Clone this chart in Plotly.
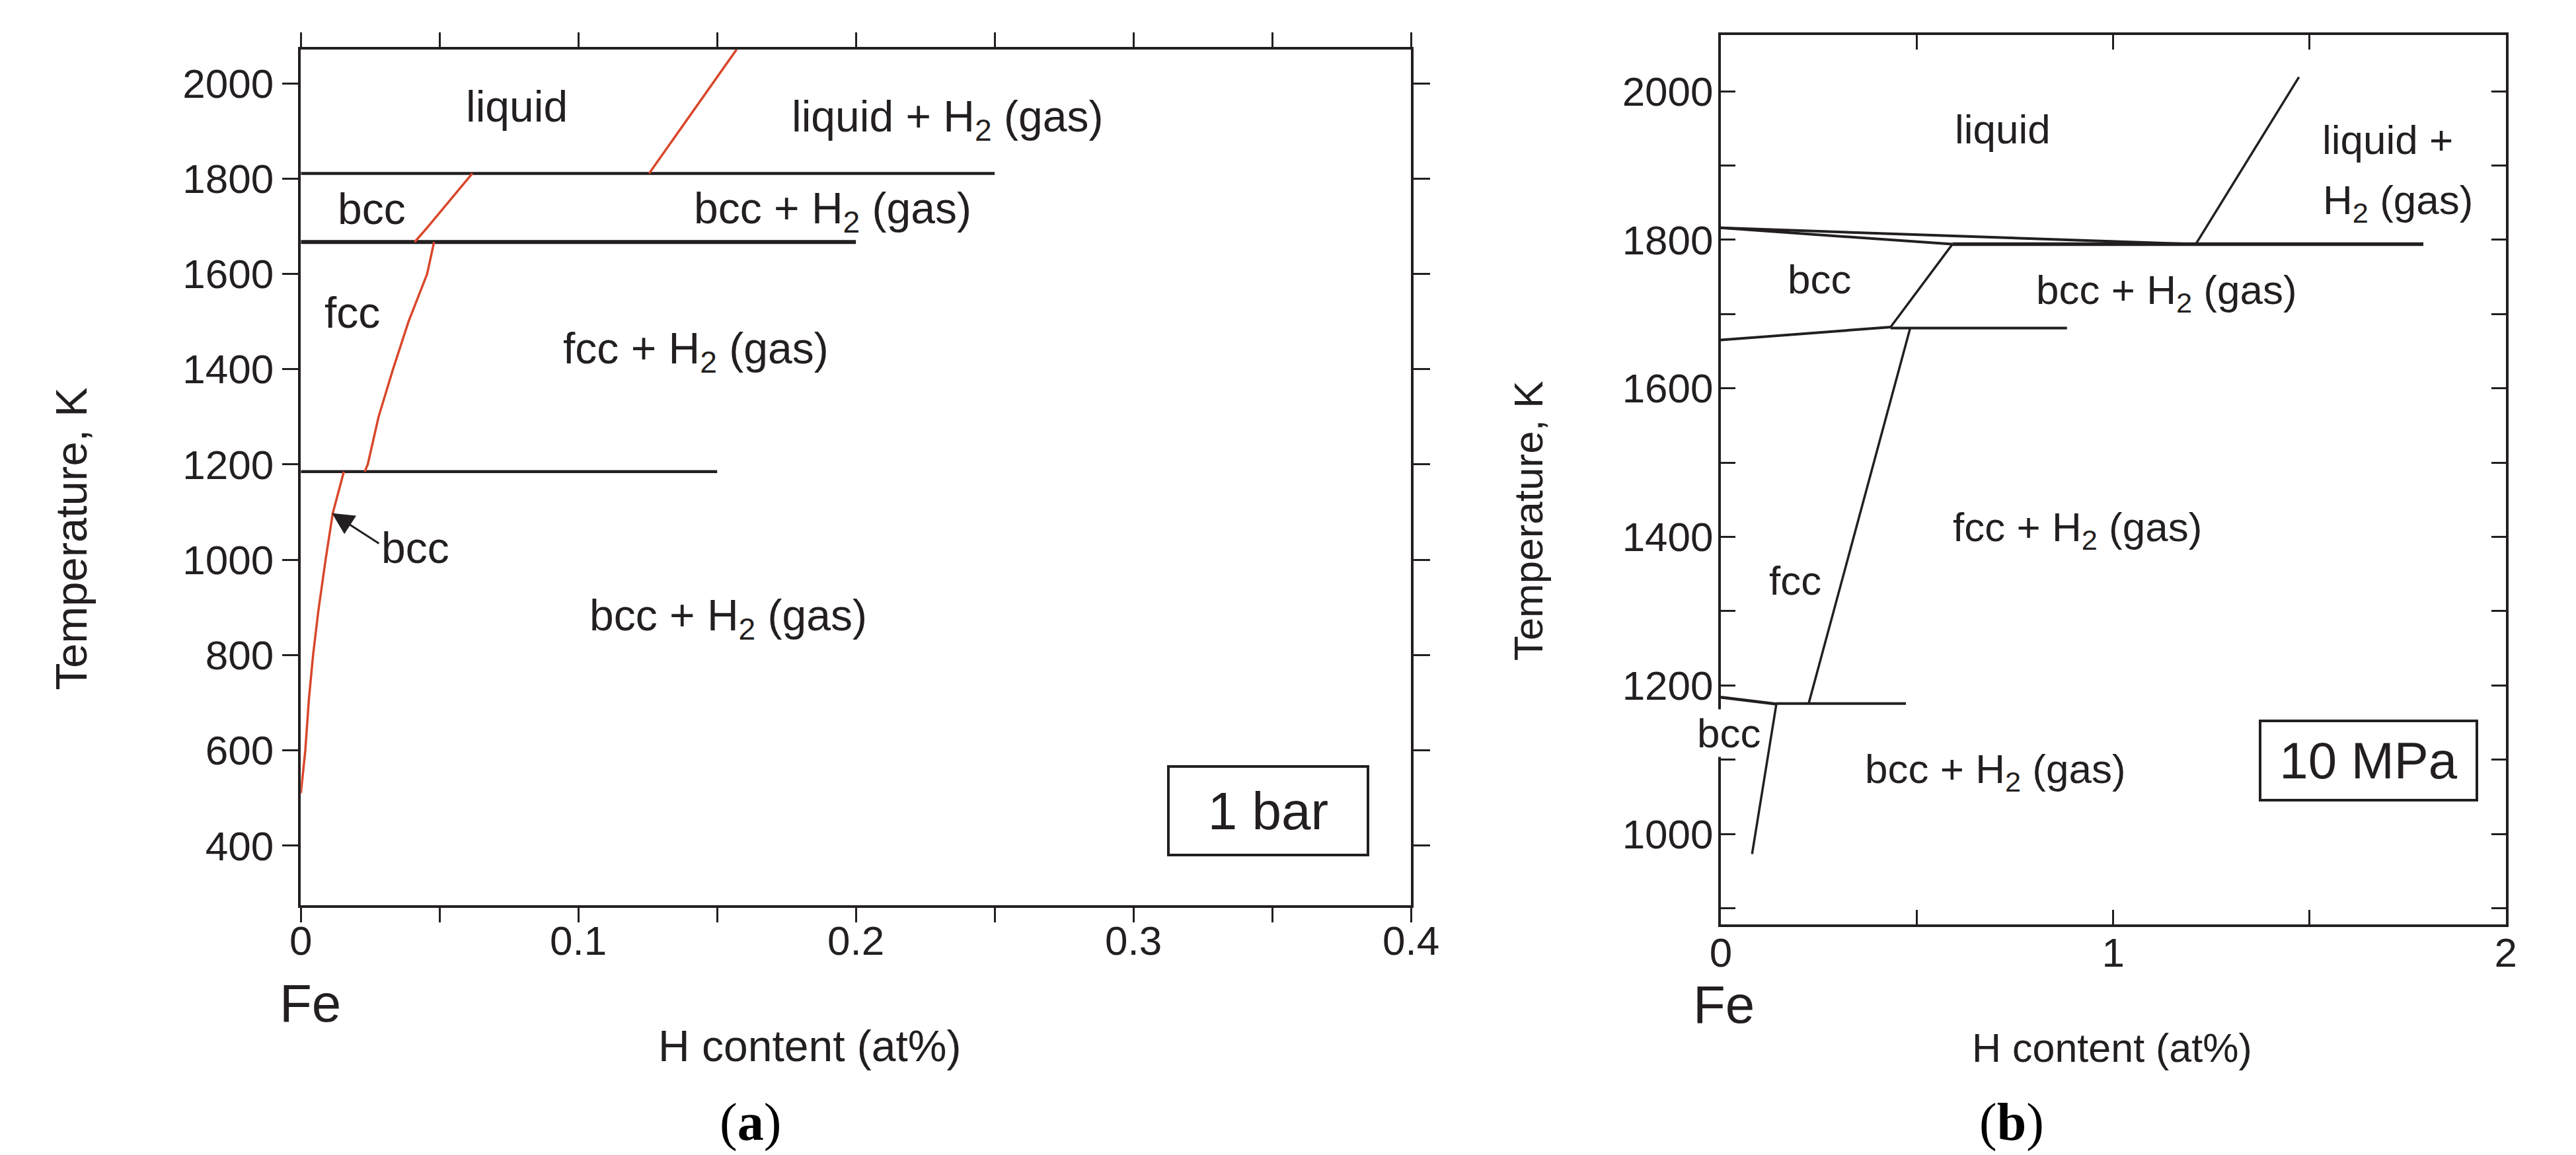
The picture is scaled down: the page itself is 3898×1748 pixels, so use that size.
import plotly.graph_objects as go

# ---------------- data: panel (a) 1 bar ----------------
a_liq_iso_x = [0, 0.25]
a_liq_iso_T = [1811, 1811]
a_delta_iso_x = [0, 0.2]
a_delta_iso_T = [1667, 1667]
a_alpha_iso_x = [0, 0.15]
a_alpha_iso_T = [1185, 1185]

a_liqgas_x = [0.1255, 0.157]
a_liqgas_T = [1811, 2071]
a_delta_x = [0.041, 0.0455, 0.0618]
a_delta_T = [1667, 1697, 1811]
a_gamma_x = [0.023, 0.0241, 0.0280, 0.0332, 0.0388, 0.0455, 0.048]
a_gamma_T = [1185, 1200, 1300, 1400, 1500, 1600, 1667]
a_alpha_x = [0.0, 0.0016, 0.0029, 0.0044, 0.0063, 0.0089, 0.0115, 0.0155]
a_alpha_T = [510, 600, 708, 800, 893, 1000, 1098, 1185]

# ---------------- data: panel (b) 10 MPa ----------------
b_liq_x = [0, 1.21]
b_liq_T = [1816, 1794]
b_delta_sol_x = [0, 0.3, 0.59]
b_delta_sol_T = [1816, 1805, 1794]
b_iso1_x = [0.59, 1.79]
b_iso1_T = [1794, 1794]
b_liqgas_x = [1.21, 1.473]
b_liqgas_T = [1794, 2019]
b_deltagas_x = [0.59, 0.4325]
b_deltagas_T = [1794, 1682.5]
b_deltagamma_x = [0, 0.224, 0.4325]
b_deltagamma_T = [1665, 1674, 1682.5]
b_iso2_x = [0.4325, 0.882]
b_iso2_T = [1681, 1681]
b_gammagas_x = [0.4824, 0.224]
b_gammagas_T = [1681, 1176]
b_alphagamma_x = [0, 0.1415]
b_alphagamma_T = [1184, 1175]
b_iso3_x = [0.1415, 0.4715]
b_iso3_T = [1175.5, 1175.5]
b_alphagas_x = [0.1415, 0.0796]
b_alphagas_T = [1175, 973]

# tick labels
a_xticks = [0, 0.05, 0.1, 0.15, 0.2, 0.25, 0.3, 0.35, 0.4]
a_xticktext = ["0", "", "0.1", "", "0.2", "", "0.3", "", "0.4"]
a_yticks = [400, 600, 800, 1000, 1200, 1400, 1600, 1800, 2000]
b_xticks = [0, 0.5, 1, 1.5, 2]
b_xticktext = ["0", "", "1", "", "2"]
b_yticks = [900, 1000, 1100, 1200, 1300, 1400, 1500, 1600, 1700, 1800, 1900, 2000]
b_yticktext = ["", "1000", "", "1200", "", "1400", "", "1600", "", "1800", "", "2000"]

INK = "#231f20"
RED = "#d9472b"
FONT = "Liberation Sans, Arial, sans-serif"

fig = go.Figure()

def line(x, y, color, width, xa="x", ya="y"):
    fig.add_trace(go.Scatter(x=x, y=y, mode="lines", xaxis=xa, yaxis=ya,
                             line=dict(color=color, width=width),
                             showlegend=False, hoverinfo="skip"))

# panel a
line(a_liq_iso_x, a_liq_iso_T, INK, 4.5)
line(a_delta_iso_x, a_delta_iso_T, INK, 6)
line(a_alpha_iso_x, a_alpha_iso_T, INK, 4.5)
line(a_liqgas_x, a_liqgas_T, RED, 3.5)
line(a_delta_x, a_delta_T, RED, 3.5)
line(a_gamma_x, a_gamma_T, RED, 3.5)
line(a_alpha_x, a_alpha_T, RED, 3.5)

# panel b
for xs, ts, w in [
    (b_liq_x, b_liq_T, 4), (b_delta_sol_x, b_delta_sol_T, 4),
    (b_iso1_x, b_iso1_T, 5.5), (b_liqgas_x, b_liqgas_T, 3.5),
    (b_deltagas_x, b_deltagas_T, 3.5), (b_deltagamma_x, b_deltagamma_T, 4),
    (b_iso2_x, b_iso2_T, 4), (b_gammagas_x, b_gammagas_T, 3.5),
    (b_alphagamma_x, b_alphagamma_T, 4.5), (b_iso3_x, b_iso3_T, 4),
    (b_alphagas_x, b_alphagas_T, 3.5),
]:
    line(xs, ts, INK, w, "x2", "y2")

ann = []
def lab(text, x, y, size, xref="x", yref="y", xanchor="center", **kw):
    d = dict(text=text, x=x, y=y, xref=xref, yref=yref, showarrow=False,
             xanchor=xanchor, yanchor="middle",
             font=dict(family=FONT, size=size, color=INK))
    d.update(kw)
    ann.append(d)

H2 = "H<sub>2</sub>"
# panel a region labels
lab("liquid", 0.0778, 1952, 66)
lab(f"liquid + {H2} (gas)", 0.2329, 1924, 66)
lab("bcc", 0.0256, 1736, 66)
lab(f"bcc + {H2} (gas)", 0.1916, 1731, 66)
lab("fcc", 0.0185, 1519, 66)
lab(f"fcc + {H2} (gas)", 0.1423, 1437, 66)
lab(f"bcc + {H2} (gas)", 0.154, 877, 66)
lab("bcc", 0.0285, 1025, 66, xanchor="left")
ann.append(dict(text="", x=0.0112, y=1098, ax=0.0285, ay=1033, xref="x", yref="y",
                axref="x", ayref="y", showarrow=True, arrowhead=2, arrowsize=2.2,
                arrowwidth=3, arrowcolor=INK))
lab("1 bar", 0.3486, 473.5, 80, width=296, height=128,
    bordercolor=INK, borderwidth=4, bgcolor="white")

# panel b region labels
lab("liquid", 0.719, 1949, 62, "x2", "y2")
lab("liquid +", 1.529, 1934.5, 62, "x2", "y2", xanchor="left")
lab(f"{H2} (gas)", 1.531, 1850, 62, "x2", "y2", xanchor="left")
lab("bcc", 0.251, 1747, 62, "x2", "y2")
lab(f"bcc + {H2} (gas)", 1.135, 1729, 62, "x2", "y2")
lab(f"fcc + {H2} (gas)", 0.909, 1409, 62, "x2", "y2")
lab("fcc", 0.19, 1341, 62, "x2", "y2")
lab("bcc", 0.0203, 1136, 62, "x2", "y2", bgcolor="white")
lab(f"bcc + {H2} (gas)", 0.70, 1084, 62, "x2", "y2")
lab("10 MPa", 1.651, 1099, 78, "x2", "y2", width=322, height=114,
    bordercolor=INK, borderwidth=4, bgcolor="white")

# outer labels (paper coords)
lab("Temperature, K", 0.0215, 0.5378, 67, "paper", "paper", textangle=-90)
lab("Temperature, K", 0.5959, 0.5536, 62, "paper", "paper", textangle=-90)
lab("Fe", 0.1158, 0.1358, 80, "paper", "paper")
lab("Fe", 0.6731, 0.1346, 80, "paper", "paper")
lab("H content (at%)", 0.3129, 0.0990, 66, "paper", "paper")
lab("H content (at%)", 0.8261, 0.0975, 61, "paper", "paper")
ann.append(dict(text="(<b>a</b>)", x=0.2894, y=0.033, xref="paper", yref="paper",
                showarrow=False, xanchor="center", yanchor="middle",
                font=dict(family="Liberation Serif, Times New Roman, serif", size=80, color="black")))
ann.append(dict(text="(<b>b</b>)", x=0.7866, y=0.033, xref="paper", yref="paper",
                showarrow=False, xanchor="center", yanchor="middle",
                font=dict(family="Liberation Serif, Times New Roman, serif", size=80, color="black")))

axis_common = dict(showline=True, linecolor=INK, showgrid=False, zeroline=False,
                   mirror="ticks", tickcolor=INK, tickwidth=3,
                   tickfont=dict(family=FONT, size=62, color=INK))

fig.update_layout(
    width=3898, height=1748,
    margin=dict(l=0, r=0, t=0, b=0),
    paper_bgcolor="white", plot_bgcolor="white",
    showlegend=False,
    xaxis=dict(domain=[0.11211, 0.54977], range=[0, 0.4], anchor="y",
               tickmode="array", tickvals=a_xticks, ticktext=a_xticktext,
               ticks="outside", ticklen=22, linewidth=3.5, ticklabelstandoff=-25,
               **axis_common),
    yaxis=dict(domain=[0.22082, 0.96173], range=[275, 2071], anchor="x",
               tickmode="array", tickvals=a_yticks,
               ticks="outside", ticklen=25, linewidth=3.5, **axis_common),
    xaxis2=dict(domain=[0.67196, 0.98143], range=[0, 2], anchor="y2",
                tickmode="array", tickvals=b_xticks, ticktext=b_xticktext,
                ticks="inside", ticklen=22, linewidth=4, ticklabelstandoff=-15,
                **axis_common),
    yaxis2=dict(domain=[0.20406, 0.97449], range=[878, 2076], anchor="x2",
                tickmode="array", tickvals=b_yticks, ticktext=b_yticktext,
                ticks="inside", ticklen=22, linewidth=4, ticklabelstandoff=-5,
                **axis_common),
    annotations=ann,
)

fig.write_html("out.html")
